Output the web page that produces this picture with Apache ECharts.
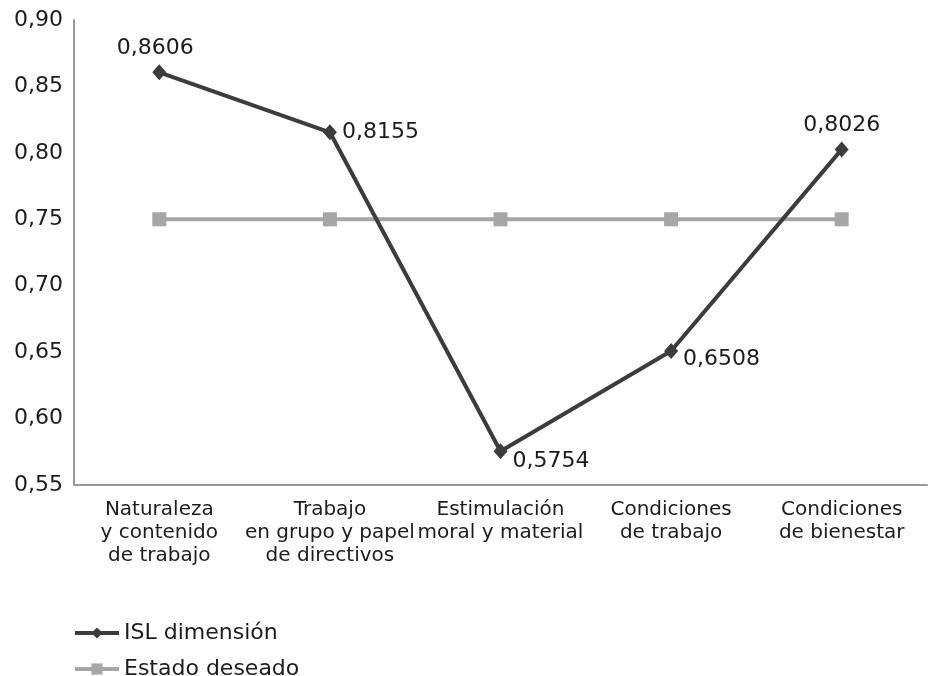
<!DOCTYPE html>
<html>
<head>
<meta charset="utf-8">
<script src="https://cdn.jsdelivr.net/npm/echarts@6/dist/echarts.min.js"></script>
<style>
  html, body { margin: 0; padding: 0; background: #fff; }
  #myChart { width: 938px; height: 676px; }
</style>
</head>
<body>
<div id="myChart"></div>
<script>
var categories = [
  "Naturaleza\ny contenido\nde trabajo",
  "Trabajo\nen grupo y papel\nde directivos",
  "Estimulación\nmoral y material",
  "Condiciones\nde trabajo",
  "Condiciones\nde bienestar"
];
var islDimension = [0.8606, 0.8155, 0.5754, 0.6508, 0.8026];
var estadoDeseado = [0.75, 0.75, 0.75, 0.75, 0.75];
var yTicks = { min: 0.55, max: 0.90, interval: 0.05 };
// where each data label sits relative to its point
var labelPlaces = [
  { position: "top", offset: [-4, 0] },
  { position: "right", offset: [0, 0] },
  { position: "right", offset: [0, 10] },
  { position: "right", offset: [0, 8] },
  { position: "top", offset: [0, 0] }
];

var font = "DejaVu Sans";
var textColor = "#1c1c1c";
var chart = echarts.init(document.getElementById("myChart"));

function legendRow(name, top) {
  return {
    orient: "horizontal",
    left: 73,
    top: top,
    padding: 0,
    itemWidth: 44,
    itemHeight: 14,
    lineStyle: { width: 4 },
    textStyle: { fontFamily: font, fontSize: 22, lineHeight: 22, color: textColor },
    data: [name]
  };
}

chart.setOption({
  animation: false,
  textStyle: { fontFamily: font },
  grid: { left: 74, right: 11, top: 20, bottom: 191 },
  legend: [
    legendRow("ISL dimensión", 622),
    legendRow("Estado deseado", 658)
  ],
  xAxis: {
    type: "category",
    data: categories,
    boundaryGap: true,
    axisLine: { lineStyle: { color: "#9a9a9a", width: 2 } },
    axisTick: { show: false },
    axisLabel: {
      interval: 0,
      margin: 13,
      fontFamily: font,
      fontSize: 20,
      lineHeight: 23,
      color: textColor,
      align: "center"
    }
  },
  yAxis: {
    type: "value",
    min: yTicks.min,
    max: yTicks.max,
    interval: yTicks.interval,
    axisLine: { show: true, lineStyle: { color: "#9a9a9a", width: 2 } },
    axisTick: { show: false },
    splitLine: { show: false },
    axisLabel: {
      margin: 11,
      fontFamily: font,
      fontSize: 22,
      color: textColor,
      formatter: function (v) { return v.toFixed(2).replace(".", ","); }
    }
  },
  series: [
    {
      name: "Estado deseado",
      type: "line",
      data: estadoDeseado,
      symbol: "rect",
      symbolSize: 14,
      color: "#a6a6a6",
      lineStyle: { color: "#a6a6a6", width: 4 },
      itemStyle: { color: "#a6a6a6" },
      z: 2
    },
    {
      name: "ISL dimensión",
      type: "line",
      data: islDimension.map(function (v, i) {
        return {
          value: v,
          label: labelPlaces[i]
        };
      }),
      symbol: "diamond",
      symbolSize: [14, 16],
      color: "#3c3c3c",
      lineStyle: { color: "#3c3c3c", width: 4 },
      itemStyle: { color: "#3c3c3c" },
      z: 3,
      label: {
        show: true,
        fontFamily: font,
        fontSize: 22,
        color: textColor,
        distance: 5,
        formatter: function (p) { return p.value.toFixed(4).replace(".", ","); }
      }
    }
  ]
});
</script>
</body>
</html>
